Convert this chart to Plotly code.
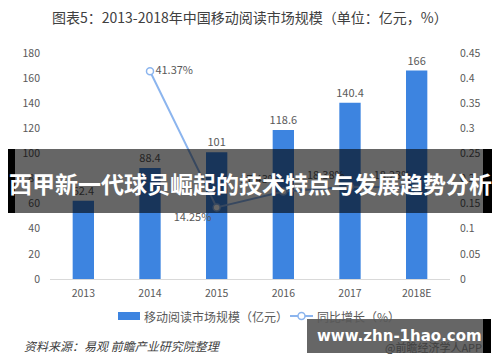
import plotly.graph_objects as go

years = ["2013", "2014", "2015", "2016", "2017", "2018E"]
market = [62.4, 88.4, 101, 118.6, 140.4, 166]
growth = [None, 0.4137, 0.1425, 0.1743, 0.1838, 0.1823]
growth_labels = ["", "41.37%", "14.25%", "17.43%", "18.38%", "18.23%"]
growth_pos = ["middle right", "middle right", "bottom left", "top left", "top left", "top left"]
left_ticks = list(range(0, 181, 20))
right_ticks = [0, 0.05, 0.1, 0.15, 0.2, 0.25, 0.3, 0.35, 0.4, 0.45]

FONT = "Noto Sans CJK SC, Noto Sans, sans-serif"
BAR = "#3d84e0"
LINE = "#8cb5ee"
GRAY = "#595959"

fig = go.Figure()
fig.add_trace(go.Bar(
    x=years, y=market, marker=dict(color=BAR, line=dict(width=0)),
    text=[str(v) for v in market], textposition="outside", cliponaxis=False,
    constraintext="none",
    textfont=dict(size=11, color=GRAY, family=FONT), name="移动阅读市场规模（亿元）",
    showlegend=False,
))
fig.add_trace(go.Scatter(
    x=years, y=growth, yaxis="y2", mode="lines+markers+text",
    line=dict(color=LINE, width=2),
    marker=dict(symbol="circle", size=7, color="white", line=dict(color=LINE, width=1.5)),
    text=growth_labels, textposition=growth_pos, cliponaxis=False,
    textfont=dict(size=11, color=GRAY, family=FONT), name="同比增长（%）",
    showlegend=False,
))

fig.update_layout(
    width=500, height=362,
    margin=dict(l=50, r=50, t=53, b=83, autoexpand=False),
    paper_bgcolor="white", plot_bgcolor="white",
    font=dict(family=FONT, color=GRAY, size=10),
    bargap=0.68,
    hovermode=False,
    xaxis=dict(type="category", showgrid=False, showline=True, linecolor="#d9d9d9",
               linewidth=1, ticks="", tickfont=dict(size=10.5, color=GRAY),
               ticklabelstandoff=4, automargin=False),
    yaxis=dict(range=[0, 180], tickvals=left_ticks, showgrid=False, zeroline=False,
               showline=False, tickfont=dict(size=10.5, color=GRAY), ticklabelstandoff=9,
               automargin=False),
    yaxis2=dict(range=[0, 0.45], tickvals=right_ticks, overlaying="y", side="right",
                showgrid=False, zeroline=False, showline=False,
                tickfont=dict(size=10.5, color=GRAY), ticklabelstandoff=9, automargin=False),
)

def px_x(p):
    return (p - 50) / 400.0

def px_y(p):
    return (279 - p) / 226.0

shapes = []
annotations = []

# title
annotations.append(dict(text="图表5：2013-2018年中国移动阅读市场规模（单位：亿元，%）",
                        xref="paper", yref="paper", x=px_x(250), y=px_y(17),
                        xanchor="center", yanchor="middle", showarrow=False,
                        font=dict(size=14, color="#404040", family=FONT)))

# manual legend
shapes.append(dict(type="rect", xref="paper", yref="paper", x0=px_x(118), x1=px_x(140),
                   y0=px_y(312), y1=px_y(320), fillcolor=BAR, line=dict(width=0)))
annotations.append(dict(text="移动阅读市场规模（亿元）", xref="paper", yref="paper",
                        x=px_x(142), y=px_y(316), xanchor="left", yanchor="middle",
                        showarrow=False, font=dict(size=12, color=GRAY, family=FONT)))
shapes.append(dict(type="line", xref="paper", yref="paper", x0=px_x(290), x1=px_x(313),
                   y0=px_y(316), y1=px_y(316), line=dict(color=LINE, width=2)))
shapes.append(dict(type="circle", xref="paper", yref="paper", x0=px_x(298), x1=px_x(305),
                   y0=px_y(319.5), y1=px_y(312.5), fillcolor="white",
                   line=dict(color=LINE, width=1.5)))
annotations.append(dict(text="同比增长（%）", xref="paper", yref="paper",
                        x=px_x(315), y=px_y(316), xanchor="left", yanchor="middle",
                        showarrow=False, font=dict(size=12, color=GRAY, family=FONT)))

# source
annotations.append(dict(text="<i>资料来源：易观 前瞻产业研究院整理</i>", xref="paper", yref="paper",
                        x=px_x(22), y=px_y(345), xanchor="left", yanchor="middle",
                        showarrow=False, font=dict(size=12, color="#404040", family=FONT)))
annotations.append(dict(text="@前瞻经济学人APP", xref="paper", yref="paper",
                        x=px_x(484), y=px_y(347), xanchor="right", yanchor="middle",
                        showarrow=False, font=dict(size=11, color="#404040", family=FONT)))

# banner overlay
shapes.append(dict(type="rect", xref="paper", yref="paper", x0=px_x(15), x1=px_x(483),
                   y0=px_y(213), y1=px_y(149), fillcolor="rgba(0,0,0,0.6)", line=dict(width=0),
                   layer="above"))
shapes.append(dict(type="rect", xref="paper", yref="paper", x0=px_x(8), x1=px_x(15),
                   y0=px_y(213), y1=px_y(149), fillcolor="black", line=dict(width=0),
                   layer="above"))
shapes.append(dict(type="rect", xref="paper", yref="paper", x0=px_x(483), x1=px_x(492),
                   y0=px_y(213), y1=px_y(149), fillcolor="black", line=dict(width=0),
                   layer="above"))
annotations.append(dict(text="<b>西甲新一代球员崛起的技术特点与发展趋势分析</b>",
                        xref="paper", yref="paper", x=px_x(250), y=px_y(183),
                        xanchor="center", yanchor="middle", showarrow=False,
                        font=dict(size=23, color="white", family=FONT)))

# watermark box
shapes.append(dict(type="rect", xref="paper", yref="paper", x0=px_x(307), x1=px_x(483),
                   y0=px_y(353), y1=px_y(319), fillcolor="rgba(0,0,0,0.6)", line=dict(width=0),
                   layer="above"))
shapes.append(dict(type="rect", xref="paper", yref="paper", x0=px_x(483), x1=px_x(491),
                   y0=px_y(353), y1=px_y(319), fillcolor="black", line=dict(width=0),
                   layer="above"))
annotations.append(dict(text="<b>www.zhn-1hao.com</b>", xref="paper", yref="paper",
                        x=px_x(399), y=px_y(336), xanchor="center", yanchor="middle",
                        showarrow=False,
                        font=dict(size=15, color="white", family="DejaVu Sans, sans-serif")))

fig.update_layout(shapes=shapes, annotations=annotations)
fig.write_html("out.html", config={"displayModeBar": False},
               post_script="document.body.style.margin='0px';")
